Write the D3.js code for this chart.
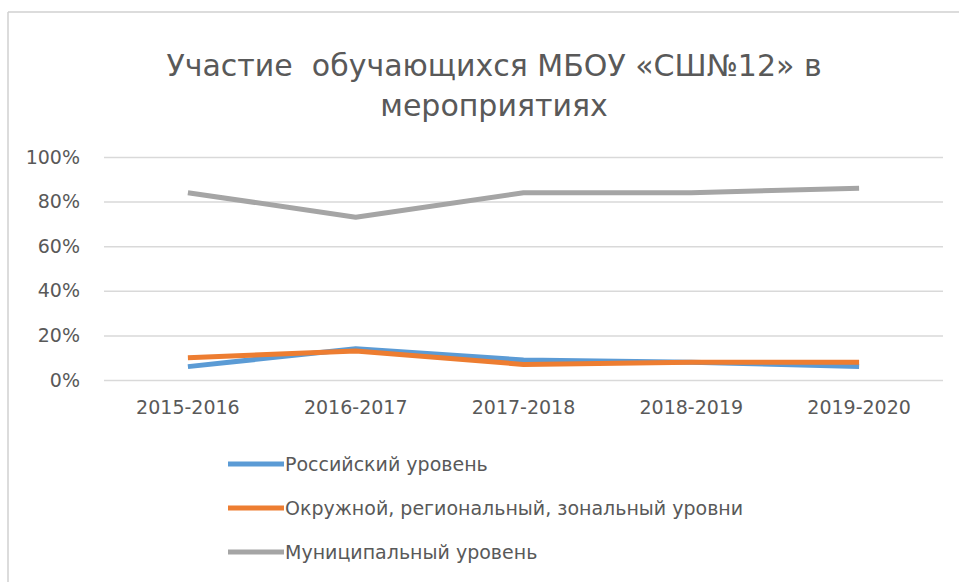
<!DOCTYPE html>
<html>
<head>
<meta charset="utf-8">
<script src="https://cdn.jsdelivr.net/npm/d3@7"></script>
<style>
  body { margin: 0; background: #fff; }
  svg { display: block; font-family: "DejaVu Sans", sans-serif; }
</style>
</head>
<body>
<div id="chart"></div>
<script>
const categories = ["2015-2016", "2016-2017", "2017-2018", "2018-2019", "2019-2020"];
const seriesNames = [
    "Российский уровень",
    "Окружной, региональный, зональный уровни",
    "Муниципальный уровень"
];
const russianValues = [0.06, 0.14, 0.09, 0.08, 0.06];
const regionalValues = [0.10, 0.13, 0.07, 0.08, 0.08];
const municipalValues = [0.84, 0.73, 0.84, 0.84, 0.86];
const yTicks = [0, 0.2, 0.4, 0.6, 0.8, 1.0];
const colors = ["#5b9bd5", "#ed7d31", "#a5a5a5"];

const canvasWidth = 959;
const canvasHeight = 582;
const plot = { left: 104, right: 943, top: 157, bottom: 380 };

const svg = d3.select("#chart")
    .append("svg")
    .attr("width", canvasWidth)
    .attr("height", canvasHeight);

// chart frame (only top and left edges show in the picture)
svg.append("line").attr("x1", 8).attr("x2", canvasWidth).attr("y1", 12).attr("y2", 12)
    .attr("stroke", "#d0d0d0").attr("stroke-width", 1.5);
svg.append("line").attr("x1", 8).attr("x2", 8).attr("y1", 12).attr("y2", canvasHeight)
    .attr("stroke", "#d0d0d0").attr("stroke-width", 1.5);

// title
const title = svg.append("text")
    .attr("text-anchor", "middle")
    .attr("fill", "#595959")
    .attr("font-size", 30)
    .style("white-space", "pre");
title.append("tspan").attr("x", 494).attr("y", 76).text("Участие  обучающихся МБОУ «СШ№12» в");
title.append("tspan").attr("x", 494).attr("y", 116).text("мероприятиях");

const xScale = d3.scaleBand().domain(categories).range([plot.left, plot.right]);
const yScale = d3.scaleLinear().domain([0, 1]).range([plot.bottom, plot.top]);

// gridlines + y axis
const yAxis = d3.axisLeft(yScale)
    .tickValues(yTicks)
    .tickFormat(d => Math.round(d * 100) + "%")
    .tickSize(-(plot.right - plot.left))
    .tickPadding(24);

svg.append("g")
    .attr("class", "y-axis")
    .attr("transform", `translate(${plot.left},0)`)
    .call(yAxis)
    .call(g => g.select(".domain").remove())
    .call(g => g.selectAll(".tick line").attr("stroke", "#d9d9d9").attr("stroke-width", 1.5))
    .call(g => g.selectAll(".tick text").attr("fill", "#595959").attr("font-size", 19)
        .attr("font-family", "'DejaVu Sans', sans-serif"));

// x axis labels
const xAxis = d3.axisBottom(xScale).tickSize(0).tickPadding(21);
svg.append("g")
    .attr("class", "x-axis")
    .attr("transform", `translate(0,${plot.bottom})`)
    .call(xAxis)
    .call(g => g.select(".domain").remove())
    .call(g => g.selectAll(".tick text").attr("fill", "#595959").attr("font-size", 19)
        .attr("font-family", "'DejaVu Sans', sans-serif"));

// lines
const series = [russianValues, regionalValues, municipalValues];
const line = d3.line()
    .x((d, i) => xScale(categories[i]) + xScale.bandwidth() / 2)
    .y(d => yScale(d));

svg.append("g").selectAll("path")
    .data(series)
    .join("path")
    .attr("d", d => line(d))
    .attr("fill", "none")
    .attr("stroke", (d, i) => colors[i])
    .attr("stroke-width", 5)
    .attr("stroke-linejoin", "round");

// legend
const legend = svg.append("g").selectAll("g")
    .data(seriesNames)
    .join("g")
    .attr("transform", (d, i) => `translate(228,${464 + i * 44})`);

legend.append("line")
    .attr("x1", 0).attr("x2", 56)
    .attr("stroke", (d, i) => colors[i])
    .attr("stroke-width", 5);

legend.append("text")
    .attr("x", 57)
    .attr("dy", "0.35em")
    .attr("fill", "#595959")
    .attr("font-size", 19)
    .text(d => d);
</script>
</body>
</html>
